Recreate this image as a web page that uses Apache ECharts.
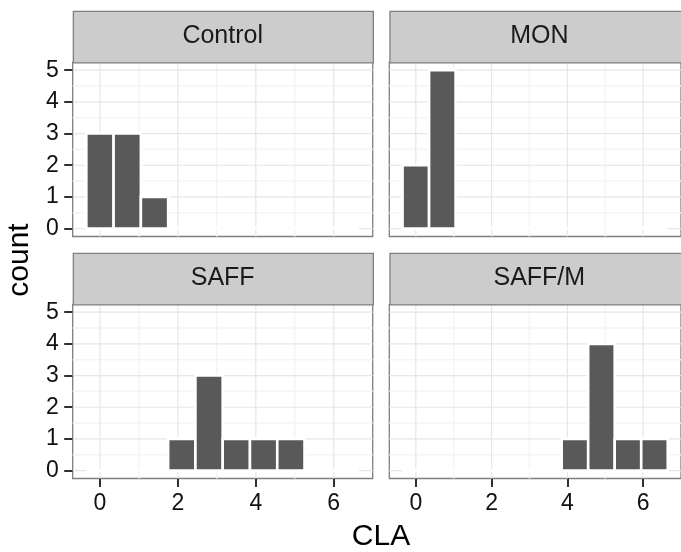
<!DOCTYPE html>
<html>
<head>
<meta charset="utf-8">
<script src="https://cdn.jsdelivr.net/npm/echarts@6/dist/echarts.min.js"></script>
<style>
html,body{margin:0;padding:0;background:#fff;}
#chart{width:681px;height:552px;}
</style>
</head>
<body>
<div id="chart"></div>
<script>
// ---- data ----
const panels = ['Control', 'MON', 'SAFF', 'SAFF/M'];
const binEdges = [-0.35, 0.35, 1.05, 1.75, 2.45, 3.15, 3.85, 4.55, 5.25, 5.95, 6.65];
const controlCounts = [3, 3, 1, 0, 0, 0, 0, 0, 0, 0];
const monCounts     = [2, 5, 0, 0, 0, 0, 0, 0, 0, 0];
const saffCounts    = [0, 0, 0, 1, 3, 1, 1, 1, 0, 0];
const saffmCounts   = [0, 0, 0, 0, 0, 0, 1, 4, 1, 1];
const xTicks = [0, 2, 4, 6];
const xMinor = [1, 3, 5];
const yTicks = [0, 1, 2, 3, 4, 5];
const yMinor = [0.5, 1.5, 2.5, 3.5, 4.5];
const xTitle = 'CLA';
const yTitle = 'count';

// ---- layout ----
const countsList = [controlCounts, monCounts, saffCounts, saffmCounts];
const FONT = '"Liberation Sans", Arial, sans-serif';
const lefts = [72.7, 389.3, 72.7, 389.3];
const tops = [62.3, 62.3, 304.3, 304.3];
const PW = 300, PH = 174.2, STRIP_H = 51.5;
const xRange = [-0.7, 7.0], yRange = [-0.25, 5.25];

const grids = [], xAxes = [], yAxes = [], series = [], graphics = [];

function lineSeries(i, values, vertical, color, width) {
  return {
    type: 'custom', xAxisIndex: i, yAxisIndex: i, silent: true, z: 1,
    dimensions: ['x', 'y'],
    encode: { x: 0, y: 1 },
    data: values.map(v => vertical ? [v, 0] : [0, v]),
    renderItem: function (params, api) {
      const cs = params.coordSys;
      const p = api.coord([api.value(0), api.value(1)]);
      const shape = vertical
        ? { x1: p[0], y1: cs.y, x2: p[0], y2: cs.y + cs.height }
        : { x1: cs.x, y1: p[1], x2: cs.x + cs.width, y2: p[1] };
      return { type: 'line', shape: shape, style: { stroke: color, lineWidth: width } };
    }
  };
}

panels.forEach((name, i) => {
  const isBottom = i >= 2, isLeft = (i % 2 === 0);
  grids.push({
    left: lefts[i], top: tops[i], width: PW, height: PH,
    show: true, backgroundColor: '#ffffff', borderColor: '#7f7f7f', borderWidth: 1.3,
    containLabel: false
  });
  xAxes.push({
    type: 'value', gridIndex: i, min: xRange[0], max: xRange[1],
    position: 'bottom',
    show: isBottom,
    axisLine: { show: false, onZero: false },
    splitLine: { show: false },
    axisTick: { show: isBottom, customValues: xTicks, length: 8.5, lineStyle: { color: '#1a1a1a', width: 1.8 } },
    axisLabel: { show: isBottom, customValues: xTicks, margin: 14, fontSize: 23, color: '#111', fontFamily: FONT }
  });
  yAxes.push({
    type: 'value', gridIndex: i, min: yRange[0], max: yRange[1],
    position: 'left',
    show: isLeft,
    axisLine: { show: false, onZero: false },
    splitLine: { show: false },
    axisTick: { show: isLeft, customValues: yTicks, length: 8.5, lineStyle: { color: '#1a1a1a', width: 1.8 } },
    axisLabel: { show: isLeft, customValues: yTicks, margin: 14, fontSize: 23, color: '#111', fontFamily: FONT }
  });
  // grid lines
  series.push(lineSeries(i, yMinor, false, '#f5f5f5', 1.6));
  series.push(lineSeries(i, xMinor, true, '#f5f5f5', 1.6));
  series.push(lineSeries(i, yTicks, false, '#e6e6e6', 1.2));
  series.push(lineSeries(i, xTicks, true, '#e6e6e6', 1.2));
  // histogram bars
  const counts = countsList[i];
  series.push({
    type: 'custom', xAxisIndex: i, yAxisIndex: i, z: 5,
    dimensions: ['x0', 'x1', 'count'],
    encode: { x: [0, 1], y: 2 },
    data: counts.map((c, k) => [binEdges[k], binEdges[k + 1], c]),
    renderItem: function (params, api) {
      const p0 = api.coord([api.value(0), api.value(2)]);
      const p1 = api.coord([api.value(1), 0]);
      return {
        type: 'rect',
        shape: { x: p0[0], y: p0[1], width: p1[0] - p0[0], height: p1[1] - p0[1] },
        style: { fill: '#595959', stroke: '#ffffff', lineWidth: 2.6 }
      };
    }
  });
  // strip
  graphics.push({
    type: 'rect', left: lefts[i], top: tops[i] - STRIP_H,
    shape: { x: 0, y: 0, width: PW, height: STRIP_H },
    style: { fill: '#cccccc', stroke: '#7f7f7f', lineWidth: 1.3 }, z: 10
  });
  graphics.push({
    type: 'text', x: lefts[i] + PW / 2, y: tops[i] - STRIP_H / 2,
    style: { text: name, fill: '#1a1a1a', font: '25px ' + FONT, textAlign: 'center', textVerticalAlign: 'middle' },
    z: 11
  });
});

graphics.push({
  type: 'text', x: 381, y: 537,
  style: { text: xTitle, fill: '#000', font: '30px ' + FONT, textAlign: 'center', textVerticalAlign: 'middle' }
});
graphics.push({
  type: 'text', x: 20, y: 260, rotation: Math.PI / 2,
  style: { text: yTitle, fill: '#000', font: '30px ' + FONT, textAlign: 'center', textVerticalAlign: 'middle' }
});

const chart = echarts.init(document.getElementById('chart'), null, { renderer: 'canvas' });
chart.setOption({
  animation: false,
  backgroundColor: '#ffffff',
  grid: grids, xAxis: xAxes, yAxis: yAxes, series: series, graphic: graphics
});
</script>
</body>
</html>
